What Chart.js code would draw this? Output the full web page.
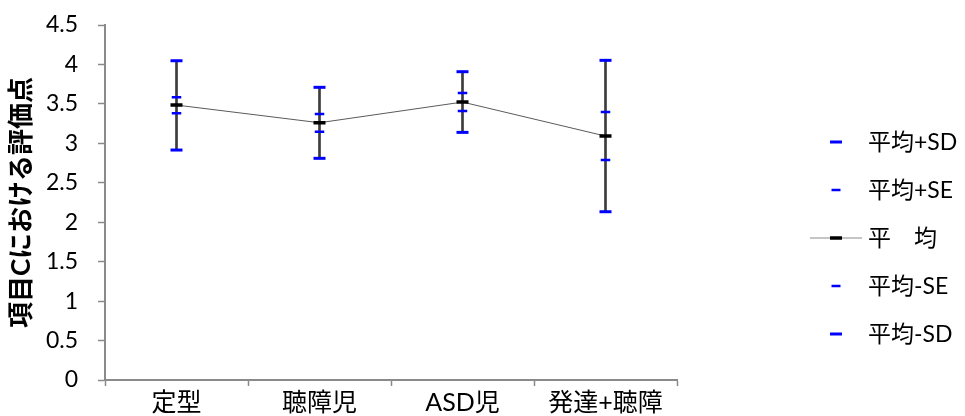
<!DOCTYPE html>
<html lang="ja">
<head>
<meta charset="utf-8">
<title>項目Cにおける評価点</title>
<script src="https://cdn.jsdelivr.net/npm/chart.js@4.4.1/dist/chart.umd.min.js"></script>
<style>
    html, body { margin: 0; padding: 0; background: #fff; }
    #wrap { position: relative; width: 965px; height: 416px; }
</style>
</head>
<body>
<div id="wrap"><canvas id="scoreChart"></canvas></div>
<script>
const groups = ['定型', '聴障児', 'ASD児', '発達+聴障'];

const meanScore = [3.485, 3.261, 3.523, 3.092];
const sdPlus = [4.047, 3.710, 3.908, 4.052];
const sePlus = [3.583, 3.371, 3.637, 3.397];
const seMinus = [3.380, 3.147, 3.410, 2.788];
const sdMinus = [2.915, 2.810, 3.139, 2.133];

const yTicks = { min: 0, max: 4.5, step: 0.5 };

const legendItems = [
    { text: '平均+SD', kind: 'sd' },
    { text: '平均+SE', kind: 'se' },
    { text: '平　均', kind: 'mean' },
    { text: '平均-SE', kind: 'se' },
    { text: '平均-SD', kind: 'sd' }
];

const BLUE = '#0000ff';
const AXIS = '#8a8a8a';
const LATIN_CJK = "Lato, 'Noto Sans CJK JP', sans-serif";

// legend drawn by hand: right-hand column, mean entry gets the line + dash swatch
const sideLegend = {
    id: 'sideLegend',
    afterDraw(chart) {
        const ctx = chart.ctx;
        const midY = 238, gap = 48;
        ctx.save();
        ctx.font = "23px " + LATIN_CJK;
        ctx.textBaseline = 'middle';
        ctx.fillStyle = '#000';
        legendItems.forEach((item, i) => {
            const y = midY + (i - 2) * gap;
            ctx.lineCap = 'butt';
            if (item.kind === 'mean') {
                ctx.strokeStyle = '#8c8c8c';
                ctx.lineWidth = 1.2;
                ctx.beginPath(); ctx.moveTo(810, y); ctx.lineTo(862, y); ctx.stroke();
                ctx.strokeStyle = '#000';
                ctx.lineWidth = 3.5;
                ctx.beginPath(); ctx.moveTo(830, y); ctx.lineTo(842, y); ctx.stroke();
            } else {
                const half = item.kind === 'sd' ? 6 : 4.5;
                ctx.strokeStyle = BLUE;
                ctx.lineWidth = item.kind === 'sd' ? 3 : 2.5;
                ctx.beginPath(); ctx.moveTo(836 - half, y); ctx.lineTo(836 + half, y); ctx.stroke();
            }
            ctx.fillText(item.text, 868, y + 1);
        });
        ctx.restore();
    }
};

function markerSet(label, values, color, radius, width) {
    return {
        type: 'line',
        label: label,
        data: values,
        showLine: false,
        pointStyle: 'line',
        pointRadius: radius,
        pointHoverRadius: radius,
        pointBorderWidth: width,
        pointBorderColor: color,
        pointBackgroundColor: color,
        borderColor: color,
        order: 1
    };
}

const ctx = document.getElementById('scoreChart').getContext('2d');

new Chart(ctx, {
    data: {
        labels: groups,
        datasets: [
            {
                // vertical range line from -SD to +SD
                type: 'bar',
                label: 'range',
                data: sdMinus.map((lo, i) => [lo, sdPlus[i]]),
                backgroundColor: '#3c3c3c',
                barThickness: 2,
                order: 5
            },
            markerSet('平均+SD', sdPlus, BLUE, 6, 3),
            markerSet('平均+SE', sePlus, BLUE, 4.75, 2.5),
            {
                type: 'line',
                label: '平　均',
                data: meanScore,
                borderColor: '#5a5a5a',
                borderWidth: 1,
                pointStyle: 'line',
                pointRadius: 6,
                pointHoverRadius: 6,
                pointBorderWidth: 3.5,
                pointBorderColor: '#000',
                tension: 0,
                order: 0
            },
            markerSet('平均-SE', seMinus, BLUE, 4.75, 2.5),
            markerSet('平均-SD', sdMinus, BLUE, 6, 3)
        ]
    },
    options: {
        responsive: true,
        maintainAspectRatio: false,
        animation: false,
        events: [],
        layout: { padding: { top: 25, right: 288, bottom: 0, left: 0 } },
        plugins: {
            legend: { display: false },
            tooltip: { enabled: false }
        },
        scales: {
            x: {
                type: 'category',
                offset: true,
                afterFit: (scale) => { scale.height = 36; },
                grid: {
                    offset: true,
                    drawOnChartArea: false,
                    tickLength: 6,
                    tickWidth: 1.5,
                    tickColor: AXIS
                },
                border: { color: AXIS, width: 2 },
                ticks: {
                    color: '#000',
                    padding: 2,
                    maxRotation: 0,
                    font: { family: LATIN_CJK, size: 25 }
                }
            },
            y: {
                min: yTicks.min,
                max: yTicks.max,
                afterFit: (scale) => {
                    // tick padding would otherwise push the plot top down
                    scale.width = 105;
                    scale.paddingTop = 0;
                    scale.paddingBottom = 0;
                },
                grid: {
                    drawOnChartArea: false,
                    tickLength: 7,
                    tickWidth: 1.5,
                    tickColor: AXIS
                },
                border: { color: AXIS, width: 2 },
                ticks: {
                    stepSize: yTicks.step,
                    color: '#000',
                    padding: 20,
                    font: { family: LATIN_CJK, size: 23 },
                    callback: (value) => String(value)
                },
                title: {
                    display: true,
                    text: '項目Cにおける評価点',
                    color: '#000',
                    padding: { top: 6, bottom: 0 },
                    font: { family: LATIN_CJK, size: 26, weight: 'bold' }
                }
            }
        }
    },
    plugins: [sideLegend]
});
</script>
</body>
</html>
